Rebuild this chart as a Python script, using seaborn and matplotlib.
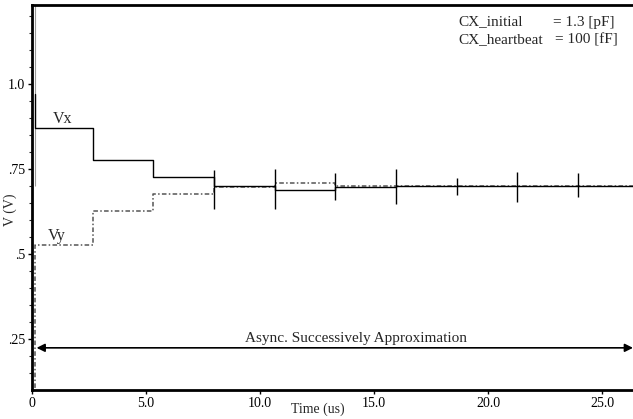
import numpy as np
import pandas as pd
import matplotlib
matplotlib.use("Agg")
import matplotlib.pyplot as plt
import seaborn as sns

# ---- data ----
step_times = [0.15, 0.15, 0.15, 2.66, 5.32, 7.98, 10.64, 13.30, 15.96, 18.62, 21.28, 23.94, 26.40]
vx_values  = [0.97, 0.97, 0.87, 0.775, 0.725, 0.700, 0.688, 0.698, 0.700, 0.700, 0.700, 0.700, 0.700]
vy_values  = [0.00, 0.00, 0.525, 0.625, 0.675, 0.698, 0.709, 0.700, 0.700, 0.700, 0.700, 0.700, 0.700]

spike_times = [7.98, 10.64, 13.30, 15.96, 18.62, 21.28, 23.94]
spike_low   = [0.632, 0.632, 0.659, 0.647, 0.674, 0.653, 0.668]
spike_high  = [0.747, 0.750, 0.738, 0.750, 0.724, 0.741, 0.738]

x_ticks = [0, 5, 10, 15, 20, 25]
x_tick_labels = ["0", "5.0", "10.0", "15.0", "20.0", "25.0"]
y_ticks = [0.25, 0.5, 0.75, 1.0]
y_tick_labels = [".25", ".5", ".75", "1.0"]

df = pd.DataFrame({"t": step_times + step_times,
                   "v": vx_values + vy_values,
                   "sig": ["Vx"] * len(step_times) + ["Vy"] * len(step_times)})

sns.set_style("ticks")
plt.rcParams["font.family"] = ["Liberation Serif", "DejaVu Serif"]

fig = plt.figure(figsize=(6.33, 4.19), dpi=100)
ax = fig.add_axes([0.0506, 0.0692, 0.9494, 0.9188])

ax.set_xlim(0, 26.36)
ax.set_ylim(0.1, 1.232)

# faint initial-condition line from the top down to the settled level
ax.vlines([step_times[0]], [vx_values[-1]], [1.232], colors="#999999", lw=0.8, zorder=1)

sns.lineplot(data=df[df.sig == "Vx"], x="t", y="v", ax=ax, sort=False, estimator=None,
             color="black", lw=1.0, drawstyle="steps-post", zorder=3)
sns.lineplot(data=df[df.sig == "Vy"], x="t", y="v", ax=ax, sort=False, estimator=None,
             color="#555555", lw=1.1, drawstyle="steps-post", zorder=2)
ax.lines[-1].set_dashes([3, 1.5, 1, 1.5])

ax.vlines(spike_times, spike_low, spike_high, colors="black", lw=1.0, zorder=3)

ax.set_xticks(x_ticks)
ax.set_xticklabels(x_tick_labels)
ax.set_yticks(y_ticks)
ax.set_yticklabels(y_tick_labels)
ax.set_yticks(np.arange(0.15, 1.23, 0.05), minor=True)
ax.tick_params(axis="both", which="major", labelsize=10, length=3, width=1, pad=2, colors="black")
ax.tick_params(axis="y", which="minor", length=2, width=0.8)

for side in ["left", "bottom", "top"]:
    ax.spines[side].set_linewidth(2.0)
    ax.spines[side].set_color("black")
ax.spines["right"].set_visible(False)

ax.set_xlabel("")
ax.set_ylabel("")
fig.text(10 / 633, 1 - 210 / 419, "V (V)", fontsize=10, rotation=90, ha="center", va="center")
fig.text(318 / 633, 1 - 409 / 419, "Time (us)", fontsize=10, ha="center", va="center")

ax.text(0.9, 0.872, "Vx", fontsize=11.5, ha="left", va="bottom")
ax.text(0.7, 0.528, "Vy", fontsize=11.5, ha="left", va="bottom")

ax.text(18.7, 1.182, "CX_initial", fontsize=11, ha="left", va="center")
ax.text(22.85, 1.182, "= 1.3 [pF]", fontsize=11, ha="left", va="center")
ax.text(18.7, 1.129, "CX_heartbeat", fontsize=11, ha="left", va="center")
ax.text(22.95, 1.129, "= 100 [fF]", fontsize=11, ha="left", va="center")

ax.annotate("", xy=(0.2, 0.224), xytext=(26.36, 0.224),
            arrowprops=dict(arrowstyle="<|-|>", lw=1.2, color="black",
                            mutation_scale=12, shrinkA=0, shrinkB=0))
ax.text(14.2, 0.232, "Async. Successively Approximation", fontsize=11, ha="center", va="bottom")

fig.savefig("out.png", dpi=100)
